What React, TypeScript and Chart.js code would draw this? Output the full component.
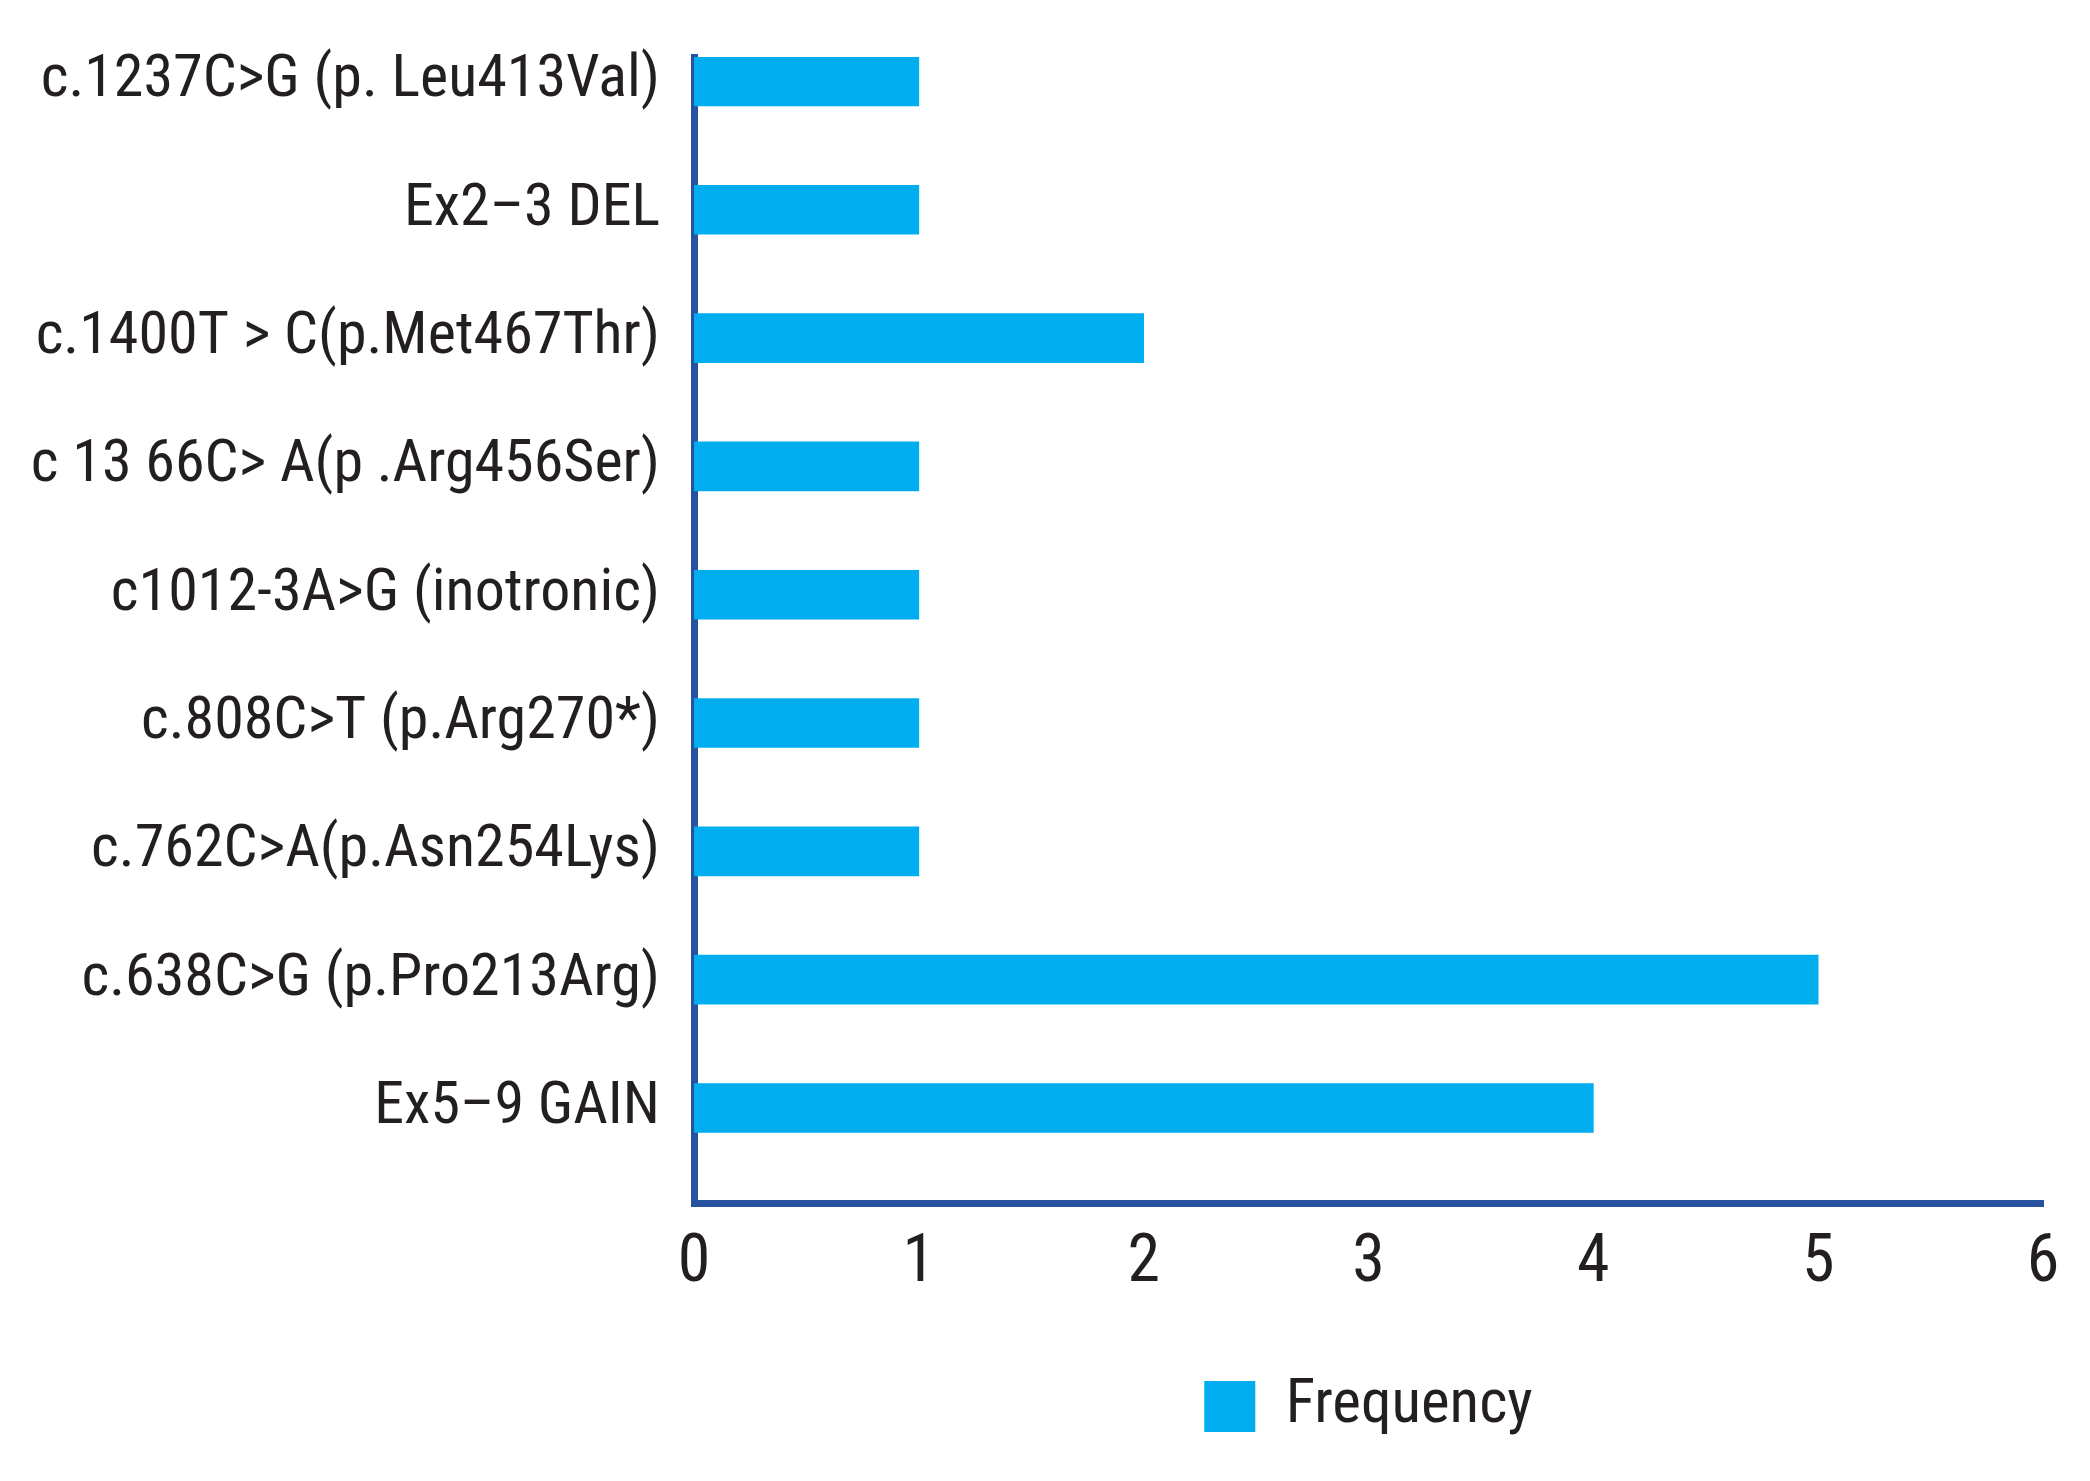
import React, { useEffect, useRef } from "react";
import { Chart, registerables } from "chart.js";

Chart.register(...registerables);

const categories: string[] = [
  "c.1237C>G (p. Leu413Val)",
  "Ex2\u20133 DEL",
  "c.1400T > C(p.Met467Thr)",
  "c 13 66C> A(p .Arg456Ser)",
  "c1012-3A>G (inotronic)",
  "c.808C>T (p.Arg270*)",
  "c.762C>A(p.Asn254Lys)",
  "c.638C>G (p.Pro213Arg)",
  "Ex5\u20139 GAIN",
];

const frequency: number[] = [1, 1, 2, 1, 1, 1, 1, 5, 4];

const xTicks: number[] = [0, 1, 2, 3, 4, 5, 6];

const seriesLabel = "Frequency";

const FONT = "Roboto, 'Open Sans', sans-serif";
const STRETCH = "condensed";
const BAR = "#00aeef";
const AXIS = "#26529f";
const TEXT = "#231f20";

export default function App() {
  const ref = useRef<HTMLCanvasElement | null>(null);

  useEffect(() => {
    document.body.style.margin = "0";
    const canvas = ref.current;
    if (!canvas) return;
    const chart = new Chart(canvas, {
      type: "bar",
      data: {
        datasets: [
          {
            label: seriesLabel,
            data: frequency.map((v, i) => ({ x: v, y: i })),
            backgroundColor: BAR,
            borderWidth: 0,
            barThickness: 49,
          },
        ],
      },
      options: {
        animation: false,
        responsive: true,
        maintainAspectRatio: false,
        indexAxis: "y",
        layout: { padding: { top: 57, right: 47, left: 0, bottom: 34 } },
        plugins: {
          tooltip: { enabled: false },
          legend: {
            display: true,
            position: "bottom",
            fullSize: false,
            labels: {
              boxWidth: 51,
              boxHeight: 51,
              padding: 10,
              color: TEXT,
              font: { family: FONT, size: 61, weight: STRETCH as any },
            },
          },
        },
        scales: {
          x: {
            type: "linear",
            min: 0,
            max: 6,
            afterBuildTicks: (scale: any) => {
              scale.ticks = xTicks.map((v) => ({ value: v }));
            },
            afterFit: (scale: any) => {
              scale.height = 163;
            },
            grid: { display: false, drawTicks: false },
            border: { display: true, color: AXIS, width: 7 },
            ticks: {
              padding: 22,
              color: TEXT,
              font: { family: FONT, size: 66, weight: STRETCH as any },
              maxRotation: 0,
            },
          },
          y: {
            type: "linear",
            reverse: true,
            offset: false,
            min: -0.19,
            max: 8.74,
            z: 1,
            afterBuildTicks: (scale: any) => {
              scale.ticks = categories.map((_, i) => ({ value: i }));
            },
            afterFit: (scale: any) => {
              scale.width = 694;
              scale.paddingTop = 0;
              scale.paddingBottom = 0;
            },
            grid: { display: false, drawTicks: false, offset: false },
            border: { display: true, color: AXIS, width: 7 },
            ticks: {
              padding: 34,
              color: TEXT,
              font: { family: FONT, size: 60, weight: STRETCH as any },
              callback: (v: any) => categories[Number(v)] ?? "",
            },
          },
        },
      },
    });
    return () => chart.destroy();
  }, []);

  return (
    <div style={{ position: "relative", width: 2090, height: 1481 }}>
      <canvas ref={ref} />
    </div>
  );
}
